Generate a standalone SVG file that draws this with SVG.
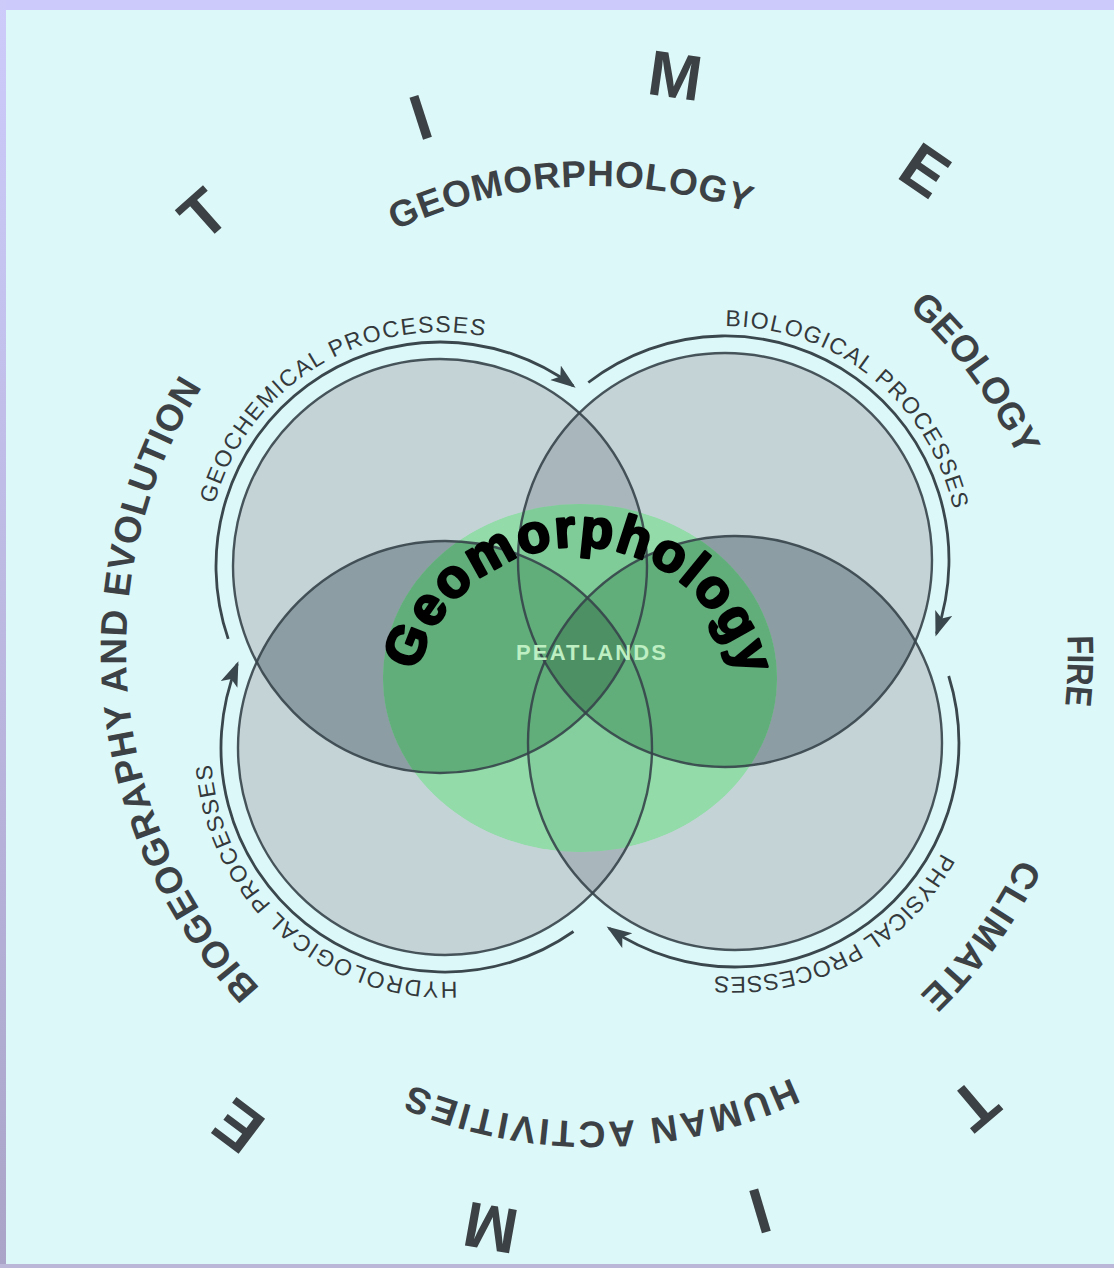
<svg xmlns="http://www.w3.org/2000/svg" width="1114" height="1268" viewBox="0 0 1114 1268">
<style>
.outer{font-family:"Liberation Sans",Arial,sans-serif;font-weight:bold;font-size:64px;fill:#3b4145;text-anchor:middle}
.ring{font-family:"Liberation Sans",Arial,sans-serif;font-weight:bold;font-size:37px;fill:#3b4145;text-anchor:middle}
.proc{font-family:"Liberation Sans",Arial,sans-serif;font-size:23px;fill:#34393c;text-anchor:middle}
.circ{fill:#c4d3d6}
.vlens{fill:#a9b7bc}
.hlens{fill:#8c9ea3}
.outline{fill:none;stroke:#36444a;stroke-width:2.4;stroke-opacity:0.9}
.arrow{fill:none;stroke:#3a474d;stroke-width:2.8}
</style>
<defs>
<linearGradient id="leftband" x1="0" y1="0" x2="0" y2="1">
<stop offset="0" stop-color="#cccbfa"/><stop offset="1" stop-color="#aaa4c8"/>
</linearGradient>
<marker id="ah" markerUnits="userSpaceOnUse" markerWidth="30" markerHeight="20" refX="22" refY="9" orient="auto">
<path d="M0,0 L25,9 L0,18 L6,9 z" fill="#3a474d"/>
</marker>
<path id="arcRing" d="M-466.2,-40.8 A468,468 0 0 1 466.2,-40.8"/>
<path id="arcBio" d="M-492.1,-43.1 A494,494 0 0 1 492.1,-43.1"/>
<path id="arcProc" d="M-233.1,-20.4 A234,234 0 0 1 233.1,-20.4"/>
<path id="arcGeo" d="M-165.4,-14.5 A166,166 0 0 1 165.4,-14.5"/>
<path id="lensTop" d="M579.3,412.9 A207,207 0 0 0 585.7,713.1 A207,207 0 0 0 579.3,412.9 Z"/>
<path id="lensBottom" d="M587.45,597.8 A207,207 0 0 0 592.55,893.2 A207,207 0 0 0 587.45,597.8 Z"/>
<path id="lensLeft" d="M256.7,662.1 A207,207 0 0 0 628.3,651.9 A207,207 0 0 0 256.7,662.1 Z"/>
<path id="lensRight" d="M544.7,661.6 A207,207 0 0 0 915.3,641.4 A207,207 0 0 0 544.7,661.6 Z"/>
<path id="diamond" d="M587.45,597.8 A207,207 0 0 1 628.3,651.9 A207,207 0 0 1 585.7,713.1 A207,207 0 0 1 544.7,661.6 A207,207 0 0 1 587.45,597.8 Z"/>
<clipPath id="greenClip"><ellipse cx="580" cy="678" rx="197" ry="174"/></clipPath>
</defs>

<g id="background">
<rect x="0" y="0" width="1114" height="1268" fill="#ddf8f8"/>
<rect x="0" y="0" width="1114" height="10" fill="#cbcafa"/>
<rect x="0" y="0" width="6" height="1268" fill="url(#leftband)"/>
<rect x="0" y="1264" width="1114" height="4" fill="#bbb7d8"/>
</g>

<g id="circle-tl"><circle class="circ" cx="440" cy="566" r="207"/></g>
<g id="circle-tr"><circle class="circ" cx="725" cy="560" r="207"/></g>
<g id="circle-bl"><circle class="circ" cx="445" cy="748" r="207"/></g>
<g id="circle-br"><circle class="circ" cx="735" cy="743" r="207"/></g>
<g id="lens-shading">
<use href="#lensTop" class="vlens"/>
<use href="#lensBottom" class="vlens"/>
<use href="#lensLeft" class="hlens"/>
<use href="#lensRight" class="hlens"/>
</g>

<g id="peatlands" clip-path="url(#greenClip)">
<ellipse cx="580" cy="678" rx="197" ry="174" fill="#93dcaa"/>
<use href="#lensTop" fill="#80cc99"/>
<use href="#lensBottom" fill="#84cf9d"/>
<use href="#lensLeft" fill="#61ae7b"/>
<use href="#lensRight" fill="#61ae7b"/>
<use href="#diamond" fill="#4d9064"/>
</g>

<g id="circle-outlines">
<circle class="outline" cx="440" cy="566" r="207"/>
<circle class="outline" cx="725" cy="560" r="207"/>
<circle class="outline" cx="445" cy="748" r="207"/>
<circle class="outline" cx="735" cy="743" r="207"/>
</g>

<g id="connectors">
<path class="arrow" d="M228.2,638.9 A224,224 0 0 1 573.2,385.9" marker-end="url(#ah)"/>
<path class="arrow" d="M588.3,382.5 A224,224 0 0 1 936.5,633.7" marker-end="url(#ah)"/>
<path class="arrow" d="M948.7,676 A224,224 0 0 1 609.1,928.3" marker-end="url(#ah)"/>
<path class="arrow" d="M573.5,931.5 A224,224 0 0 1 237.3,664.1" marker-end="url(#ah)"/>
</g>

<g id="process-labels">
<text class="proc" transform="translate(440 566) rotate(-31.9)"><textPath href="#arcProc" startOffset="50%" textLength="349" lengthAdjust="spacing">GEOCHEMICAL PROCESSES</textPath></text>
<text class="proc" transform="translate(725 560) rotate(38.75)"><textPath href="#arcProc" startOffset="50%" textLength="316" lengthAdjust="spacing">BIOLOGICAL PROCESSES</textPath></text>
<text class="proc" transform="translate(735 743) rotate(151.5)"><textPath href="#arcProc" startOffset="50%" textLength="274" lengthAdjust="spacing">PHYSICAL PROCESSES</textPath></text>
<text class="proc" transform="translate(445 748) rotate(221.5)"><textPath href="#arcProc" startOffset="50%" textLength="363" lengthAdjust="spacing">HYDROLOGICAL PROCESSES</textPath></text>
</g>

<g id="label-peatlands">
<text x="591" y="660" font-family="'Liberation Sans',Arial,sans-serif" font-weight="bold" font-size="22" fill="#bdefc3" text-anchor="middle" textLength="150" lengthAdjust="spacing">PEATLANDS</text>
</g>

<g id="label-geomorphology-arc">
<text transform="translate(578 713) rotate(0.75)" font-family="'Liberation Sans',Arial,sans-serif" font-weight="900" font-size="54" fill="#000" stroke="#000" stroke-width="2.6" stroke-linejoin="round" text-anchor="middle"><textPath href="#arcGeo" startOffset="50%" textLength="443" lengthAdjust="spacing">Geomorphology</textPath></text>
</g>

<g id="ring-labels">
<text class="ring" transform="translate(594 654) rotate(-2.95)"><textPath href="#arcRing" startOffset="50%" textLength="362" lengthAdjust="spacing">GEOMORPHOLOGY</textPath></text>
<text class="ring" transform="translate(594 654) rotate(53.65)"><textPath href="#arcRing" startOffset="50%" textLength="186" lengthAdjust="spacing">GEOLOGY</textPath></text>
<text class="ring" transform="translate(594 654) rotate(92) translate(0 -6)"><textPath href="#arcRing" startOffset="50%" textLength="70" lengthAdjust="spacingAndGlyphs">FIRE</textPath></text>
<text class="ring" transform="translate(594 654) rotate(126) translate(0 -4)"><textPath href="#arcRing" startOffset="50%" textLength="171" lengthAdjust="spacing">CLIMATE</textPath></text>
<text class="ring" transform="translate(594 654) rotate(179)"><textPath href="#arcRing" startOffset="50%" textLength="392" lengthAdjust="spacing">HUMAN ACTIVITIES</textPath></text>
<text class="ring" transform="translate(620 650) rotate(264.5)"><textPath href="#arcBio" startOffset="50%" textLength="650" lengthAdjust="spacing">BIOGEOGRAPHY AND EVOLUTION</textPath></text>
</g>

<g id="time-labels">
<text class="outer" x="594" y="88" transform="rotate(-41.6 594 654)">T</text>
<text class="outer" x="594" y="112" transform="rotate(-17.9 594 654)">I</text>
<text class="outer" x="594" y="92" transform="rotate(8 594 654)">M</text>
<text class="outer" x="594" y="90" transform="rotate(34.4 594 654)">E</text>
<text class="outer" x="594" y="86" transform="rotate(139.8 594 654)">T</text>
<text class="outer" x="594" y="95" transform="rotate(163.4 594 654)">I</text>
<text class="outer" x="594" y="93" transform="rotate(190.2 594 654)">M</text>
<text class="outer" x="594" y="85" transform="rotate(217 594 654)">E</text>
</g>
</svg>
